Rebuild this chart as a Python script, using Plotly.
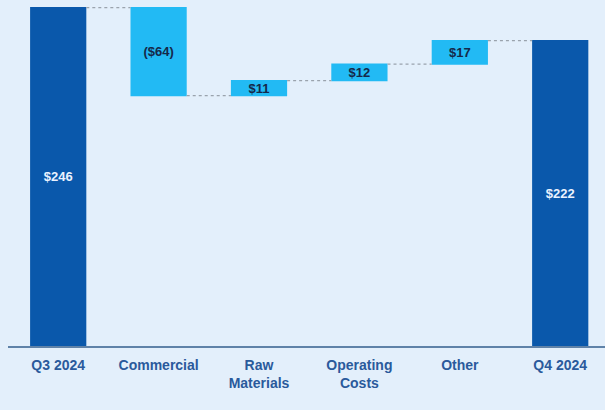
import plotly.graph_objects as go

# Sales bridge, Q3 2024 to Q4 2024 ($ millions)
categories = ["Q3 2024", "Commercial", "Raw<br>Materials", "Operating<br>Costs", "Other", "Q4 2024"]
values = [246, -64, 11, 12, 17, 222]
measures = ["absolute", "relative", "relative", "relative", "relative", "total"]
labels = ["$246", "($64)", "$11", "$12", "$17", "$222"]

DARK = "#0a58ab"
LIGHT = "#22baf4"
BG = "#e3effb"
FONT = "Liberation Sans Narrow, Arial Narrow, Liberation Sans, Arial, sans-serif"

label_colors = ["#eaf2ff" if m != "relative" else "#15294a" for m in measures]

fig = go.Figure(
    go.Waterfall(
        x=categories,
        y=values,
        measure=measures,
        text=labels,
        textposition="inside",
        insidetextanchor="middle",
        constraintext="none",
        textfont=dict(family=FONT, size=13, color=label_colors, weight="bold"),
        width=0.56,
        increasing=dict(marker=dict(color=LIGHT, line=dict(width=0))),
        decreasing=dict(marker=dict(color=LIGHT, line=dict(width=0))),
        totals=dict(marker=dict(color=DARK, line=dict(width=0))),
        connector=dict(mode="between", line=dict(color="#9aa3ad", width=1.2, dash="dot")),
        cliponaxis=False,
    )
)

fig.update_layout(
    width=605,
    height=410,
    margin=dict(l=8, r=0, t=0, b=64),
    paper_bgcolor=BG,
    plot_bgcolor=BG,
    showlegend=False,
    font=dict(family=FONT),
    uniformtext=dict(minsize=13, mode="show"),
)
fig.update_xaxes(
    range=[-0.5, 5.446],
    showgrid=False,
    showline=True,
    linecolor="#5f82a8",
    linewidth=1.5,
    ticks="",
    ticklabelstandoff=5,
    tickfont=dict(family=FONT, size=14, color="#2a5a9c", weight="bold"),
    tickangle=0,
)
fig.update_yaxes(
    range=[0, 251.6],
    showgrid=False,
    zeroline=False,
    showticklabels=False,
    showline=False,
)

fig.write_html("out.html")
